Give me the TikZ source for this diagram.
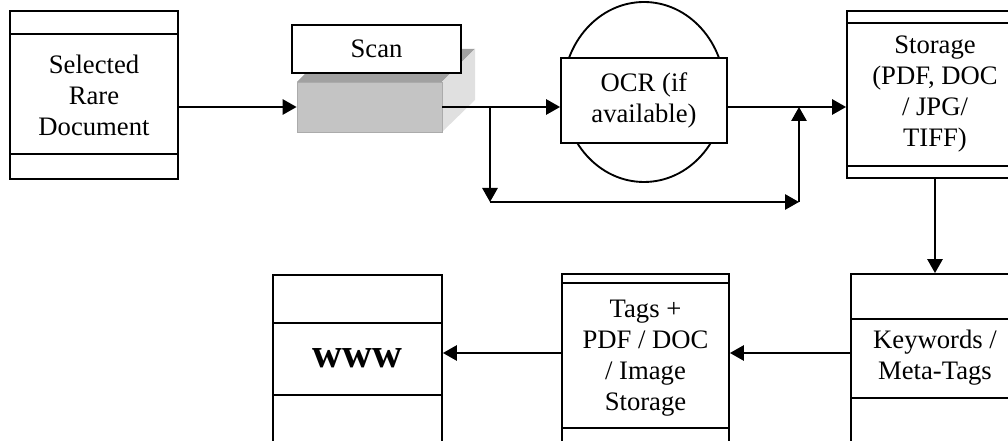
\documentclass[tikz,border=0pt]{standalone}
\usepackage{fontspec}
\setmainfont{Liberation Serif}
\usetikzlibrary{arrows.meta,positioning}

\tikzset{
  plain/.style={line width=1.4pt},
  flow/.style={line width=1.4pt,-{Triangle[length=10.5pt,width=11.5pt]}},
  docbox/.style={draw,line width=1.4pt,fill=white,align=center,inner sep=0pt,
    font=\fontsize{20}{23.25}\selectfont}
}

\begin{document}
\begin{tikzpicture}[x=0.75pt,y=-0.75pt]

  % Page frame (pixel units, y grows downwards)
  \useasboundingbox (0,0) rectangle (1008,441);
  \clip (0,0) rectangle (1008,441);

  % Selected rare document
  \node[docbox,minimum width=126pt,minimum height=126pt] (sel) at (94,95)
    {Selected\\Rare\\Document};

  % Scanner block: top face, side face, front face
  \fill[black!37] (297,82) -- (330,49) -- (475,49) -- (442,82) -- cycle;
  \fill[black!12] (442,82) -- (475,49) -- (475,100) -- (442,132) -- cycle;
  \node[fill=black!23,draw=black!33,line width=0.6pt,
    minimum width=108.75pt,minimum height=37.5pt] (scanbase) at (369.5,107) {};
  \node[docbox,minimum width=126.75pt,minimum height=36pt] (scan) at (376.5,49) {Scan};

  % OCR: ellipse behind a box
  \draw[plain] (644,92) ellipse [x radius=60.75pt,y radius=67.5pt];
  \node[docbox,minimum width=124.5pt,minimum height=63.75pt] (ocr) at (644,100.5)
    {OCR (if\\available)};

  % Storage
  \node[docbox,minimum width=132pt,minimum height=125.25pt] (store) at (935,94.5)
    {Storage\\(PDF, DOC\\/ JPG/\\TIFF)};

  % Bottom row
  \node[docbox,minimum width=126pt,minimum height=126pt] (kw) at (935,358)
    {Keywords /\\Meta-Tags};
  \node[docbox,minimum width=125.25pt,minimum height=126pt] (tags) at (645.5,358)
    {Tags +\\PDF / DOC\\/ Image\\Storage};
  \node[docbox,minimum width=126.75pt,minimum height=125.25pt,
    font=\fontsize{31}{31}\selectfont\bfseries] (www) at (357.5,358.5) {www};

  % Inner bands of the boxes
  \foreach \n/\a/\b in {sel/34/154, store/23/166, kw/319/398, tags/283/428, www/323/395} {
    \draw[plain] (\n.west |- 0,\a) -- (\n.east |- 0,\a);
    \draw[plain] (\n.west |- 0,\b) -- (\n.east |- 0,\b);
  }

  % Branch points of the bypass loop
  \coordinate (split) at (490,107);
  \coordinate (splitlow) at (490,202);
  \coordinate (joinlow) at (799,202);
  \coordinate (join) at (799,107);
  \coordinate (bot) at (0,353);

  % Connectors
  \draw[flow] (sel.east |- scanbase) -- (scanbase.west);
  \draw[flow] (scanbase.east) -- (scanbase.east -| ocr.west);
  \draw[flow] (split) -- (splitlow);
  \draw[flow] (splitlow) -- (joinlow);
  \draw[flow] (joinlow) -- (join);
  \draw[flow] (ocr.east |- join) -- (store.west |- join);
  \draw[flow] (store.south) -- (kw.north);
  \draw[flow] (kw.west |- bot) -- (tags.east |- bot);
  \draw[flow] (tags.west |- bot) -- (www.east |- bot);

\end{tikzpicture}
\end{document}
